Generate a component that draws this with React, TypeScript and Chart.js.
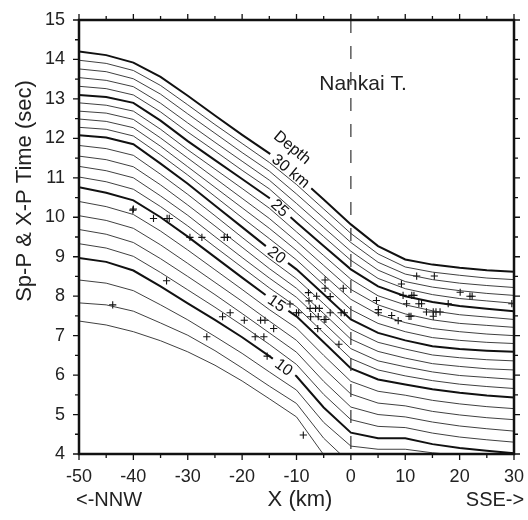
import React, { useEffect, useRef } from "react";
import { Chart, registerables } from "chart.js";

Chart.register(...registerables);

// x positions (km) at which each depth contour was read
const xNodes = [-50, -45, -40, -35, -30, -25, -20, -15, -10, -5, 0, 5, 10, 15, 20, 25, 30];

// Sp-P / X-P time (sec) for each depth contour (km)
const depth30 = [14.20, 14.11, 13.92, 13.56, 13.08, 12.58, 12.09, 11.62, 11.07, 10.45, 9.82, 9.27, 8.93, 8.80, 8.72, 8.66, 8.62];
const depth29 = [13.98, 13.90, 13.72, 13.34, 12.85, 12.35, 11.87, 11.39, 10.83, 10.21, 9.59, 9.07, 8.74, 8.61, 8.53, 8.46, 8.42];
const depth28 = [13.76, 13.69, 13.51, 13.12, 12.62, 12.13, 11.64, 11.17, 10.59, 9.98, 9.36, 8.86, 8.56, 8.42, 8.33, 8.27, 8.22];
const depth27 = [13.54, 13.47, 13.31, 12.89, 12.39, 11.90, 11.42, 10.94, 10.35, 9.74, 9.14, 8.66, 8.37, 8.23, 8.14, 8.07, 8.02];
const depth26 = [13.32, 13.26, 13.10, 12.67, 12.16, 11.68, 11.19, 10.72, 10.11, 9.51, 8.91, 8.45, 8.19, 8.04, 7.94, 7.88, 7.82];
const depth25 = [13.10, 13.05, 12.90, 12.45, 11.93, 11.45, 10.97, 10.49, 9.87, 9.27, 8.68, 8.25, 8.00, 7.85, 7.75, 7.68, 7.62];
const depth24 = [12.90, 12.84, 12.69, 12.23, 11.71, 11.22, 10.73, 10.23, 9.63, 9.03, 8.43, 8.01, 7.78, 7.63, 7.53, 7.47, 7.41];
const depth23 = [12.69, 12.64, 12.48, 12.01, 11.50, 10.99, 10.48, 9.97, 9.39, 8.78, 8.17, 7.78, 7.55, 7.40, 7.31, 7.26, 7.21];
const depth22 = [12.49, 12.43, 12.27, 11.80, 11.28, 10.76, 10.24, 9.72, 9.16, 8.54, 7.92, 7.54, 7.33, 7.18, 7.10, 7.04, 7.00];
const depth21 = [12.28, 12.23, 12.06, 11.58, 11.07, 10.53, 9.99, 9.46, 8.92, 8.29, 7.66, 7.31, 7.10, 6.95, 6.88, 6.83, 6.80];
const depth20 = [12.08, 12.02, 11.85, 11.36, 10.85, 10.30, 9.75, 9.20, 8.68, 8.05, 7.41, 7.07, 6.88, 6.73, 6.66, 6.62, 6.59];
const depth19 = [11.82, 11.74, 11.57, 11.09, 10.58, 10.04, 9.49, 8.95, 8.44, 7.81, 7.16, 6.83, 6.66, 6.51, 6.44, 6.39, 6.36];
const depth18 = [11.55, 11.46, 11.28, 10.82, 10.31, 9.78, 9.24, 8.70, 8.20, 7.56, 6.91, 6.60, 6.43, 6.29, 6.22, 6.16, 6.13];
const depth17 = [11.29, 11.18, 11.00, 10.54, 10.05, 9.51, 8.98, 8.46, 7.97, 7.32, 6.67, 6.36, 6.21, 6.08, 5.99, 5.94, 5.89];
const depth16 = [11.02, 10.90, 10.71, 10.27, 9.78, 9.25, 8.73, 8.21, 7.73, 7.07, 6.42, 6.13, 5.98, 5.86, 5.77, 5.71, 5.66];
const depth15 = [10.76, 10.62, 10.43, 10.00, 9.51, 8.99, 8.47, 7.96, 7.49, 6.83, 6.17, 5.89, 5.76, 5.64, 5.55, 5.48, 5.43];
const depth14 = [10.40, 10.27, 10.07, 9.65, 9.17, 8.67, 8.17, 7.66, 7.19, 6.50, 5.84, 5.59, 5.49, 5.36, 5.27, 5.20, 5.15];
const depth13 = [10.04, 9.92, 9.72, 9.30, 8.83, 8.35, 7.87, 7.37, 6.88, 6.17, 5.52, 5.29, 5.22, 5.08, 4.99, 4.92, 4.87];
const depth12 = [9.69, 9.57, 9.36, 8.95, 8.50, 8.04, 7.56, 7.07, 6.58, 5.84, 5.19, 5.00, 4.94, 4.81, 4.71, 4.64, 4.58];
const depth11 = [9.33, 9.22, 9.01, 8.60, 8.16, 7.72, 7.26, 6.78, 6.27, 5.51, 4.87, 4.70, 4.67, 4.53, 4.43, 4.36, 4.30];
const depth10 = [8.97, 8.87, 8.65, 8.25, 7.82, 7.40, 6.96, 6.48, 5.97, 5.18, 4.54, 4.40, 4.40, 4.25, 4.15, 4.08, 4.02];
const depth9 = [8.41, 8.33, 8.14, 7.78, 7.40, 6.98, 6.55, 6.08, 5.62, 4.80, 4.20, 4.12, 4.12, 4.03, 3.97, 3.94, 3.92];
const depth8 = [7.83, 7.78, 7.62, 7.32, 7.01, 6.62, 6.18, 5.72, 5.28, 4.40, 3.75, 3.70, 3.70, 3.65, 3.60, 3.58, 3.56];
const depth7 = [7.37, 7.27, 7.10, 6.87, 6.59, 6.25, 5.85, 5.40, 4.94, 3.98, 3.40, 3.35, 3.35, 3.30, 3.25, 3.22, 3.20];

const depths = [30, 29, 28, 27, 26, 25, 24, 23, 22, 21, 20, 19, 18, 17, 16, 15, 14, 13, 12, 11, 10, 9, 8, 7];
const contours = [
  depth30, depth29, depth28, depth27, depth26, depth25, depth24, depth23, depth22, depth21, depth20, depth19,
  depth18, depth17, depth16, depth15, depth14, depth13, depth12, depth11, depth10, depth9, depth8, depth7,
];

// earthquakes (+)
const quakeX = [-43.8, -40.1, -40.0, -36.3, -33.8, -33.4, -33.9, -29.6, -27.4, -23.3, -22.7, -26.5, -23.6, -22.2, -19.6, -16.6, -15.8, -17.6, -16.0, -15.4, -14.2, -11.2, -10.0, -9.6, -7.8, -6.3, -7.7, -7.5, -6.5, -5.8, -7.4, -6.0, -4.9, -4.6, -4.75, -4.75, -3.8, -3.8, -1.4, -1.8, -1.2, -6.1, -2.2, -8.75, 4.7, 5.05, 5.05, 7.5, 8.7, 9.3, 9.6, 11.2, 11.6, 10.25, 10.7, 11.05, 12.1, 15.35, 12.5, 13.0, 13.9, 15.15, 15.65, 16.4, 15.15, 17.9, 20.1, 21.9, 22.3, 29.6];
const quakeY = [7.78, 10.18, 10.21, 9.97, 9.97, 9.97, 8.39, 9.49, 9.49, 9.49, 9.49, 6.97, 7.48, 7.58, 7.39, 7.39, 7.39, 6.97, 6.97, 6.48, 7.18, 7.8, 7.58, 7.58, 8.09, 8.0, 7.88, 7.69, 7.69, 7.69, 7.48, 7.48, 7.41, 7.41, 8.41, 8.2, 7.99, 7.58, 8.2, 7.58, 7.58, 7.18, 6.78, 4.48, 7.89, 7.66, 7.58, 7.51, 7.38, 8.31, 8.02, 8.02, 8.02, 7.81, 7.49, 7.49, 8.51, 8.51, 7.81, 7.81, 7.6, 7.6, 7.6, 7.6, 7.49, 7.81, 8.1, 8.0, 8.0, 7.81];

// tick labels
const xTicks = [-50, -40, -30, -20, -10, 0, 10, 20, 30];
const yTicks = [4, 5, 6, 7, 8, 9, 10, 11, 12, 13, 14, 15];

// contour label texts
const labelTexts = ["30 km", "25", "20", "15", "10"];
const labelDepths = [30, 25, 20, 15, 10];
const labelX = [-11.0, -13.0, -13.6, -13.6, -12.3];

const FONT = '"Liberation Sans", Arial, Helvetica, sans-serif';
const INK = "#111";

function interp(x: number, xs: number[], ys: number[]) {
  for (let i = 0; i < xs.length - 1; i++) {
    if (x >= xs[i] && x <= xs[i + 1]) {
      const t = (x - xs[i]) / (xs[i + 1] - xs[i]);
      return ys[i] + t * (ys[i + 1] - ys[i]);
    }
  }
  return ys[ys.length - 1];
}

const overlay = {
  id: "overlay",
  afterDatasetsDraw(chart: any) {
    const ctx = chart.ctx as CanvasRenderingContext2D;
    const xs = chart.scales.x;
    const ys = chart.scales.y;
    const ca = chart.chartArea;

    // contour labels
    ctx.save();
    ctx.font = `16px ${FONT}`;
    ctx.textAlign = "center";
    ctx.textBaseline = "middle";
    const angleAt = (arr: number[], x: number) => {
      const x1 = x - 2, x2 = x + 2;
      return Math.atan2(
        ys.getPixelForValue(interp(x2, xNodes, arr)) - ys.getPixelForValue(interp(x1, xNodes, arr)),
        xs.getPixelForValue(x2) - xs.getPixelForValue(x1)
      );
    };
    labelTexts.forEach((txt, i) => {
      const arr = contours[depths.indexOf(labelDepths[i])];
      const xv = labelX[i];
      const px = xs.getPixelForValue(xv);
      const py = ys.getPixelForValue(interp(xv, xNodes, arr));
      const ang = angleAt(arr, xv);
      ctx.save();
      ctx.translate(px, py);
      ctx.rotate(ang);
      const w = ctx.measureText(txt).width;
      ctx.fillStyle = "#fff";
      ctx.fillRect(-w / 2 - 5, -3.2, w + 10, 6.4);
      ctx.fillStyle = INK;
      ctx.fillText(txt, 0, 1);
      ctx.restore();
    });
    // "Depth" above the 30 km label
    {
      const ang = angleAt(depth30, -11);
      ctx.save();
      ctx.translate(xs.getPixelForValue(-10.83), ys.getPixelForValue(11.76));
      ctx.rotate(ang);
      ctx.fillStyle = INK;
      ctx.fillText("Depth", 0, 0);
      ctx.restore();
    }
    ctx.restore();

    // dashed trench line at x = 0
    ctx.save();
    ctx.strokeStyle = "#333";
    ctx.lineWidth = 1.2;
    ctx.setLineDash([13, 13]);
    const x0 = xs.getPixelForValue(0);
    ctx.beginPath();
    ctx.moveTo(x0, ca.top);
    ctx.lineTo(x0, ca.bottom);
    ctx.stroke();
    ctx.restore();

    // Nankai T.
    ctx.save();
    ctx.font = `21px ${FONT}`;
    ctx.fillStyle = "#222";
    ctx.textAlign = "center";
    ctx.textBaseline = "middle";
    ctx.fillText("Nankai T.", xs.getPixelForValue(2.23), ys.getPixelForValue(13.38));
    ctx.restore();
  },
  afterDraw(chart: any) {
    const ctx = chart.ctx as CanvasRenderingContext2D;
    const xs = chart.scales.x;
    const ys = chart.scales.y;
    const ca = chart.chartArea;
    ctx.save();
    ctx.strokeStyle = INK;
    // ticks
    ctx.lineWidth = 1.3;
    ctx.beginPath();
    for (let v = -50; v <= 30; v += 5) {
      const p = xs.getPixelForValue(v);
      const len = v % 10 === 0 ? 6 : 4;
      ctx.moveTo(p, ca.bottom);
      ctx.lineTo(p, ca.bottom + len);
      ctx.moveTo(p, ca.top);
      ctx.lineTo(p, ca.top - len);
    }
    for (let v = 4; v <= 15; v += 0.5) {
      const p = ys.getPixelForValue(v);
      const len = Number.isInteger(v) ? 6 : 4;
      ctx.moveTo(ca.left, p);
      ctx.lineTo(ca.left - len, p);
      ctx.moveTo(ca.right, p);
      ctx.lineTo(ca.right + len, p);
    }
    ctx.stroke();
    // frame
    ctx.lineWidth = 2.5;
    ctx.strokeRect(ca.left, ca.top, ca.right - ca.left, ca.bottom - ca.top);

    // titles
    ctx.fillStyle = "#222";
    ctx.textAlign = "center";
    ctx.textBaseline = "middle";
    ctx.font = `22px ${FONT}`;
    ctx.fillText("X (km)", 300, 500);
    ctx.save();
    ctx.translate(25, 191);
    ctx.rotate(-Math.PI / 2);
    ctx.fillText("Sp-P & X-P Time (sec)", 0, 0);
    ctx.restore();
    ctx.font = `20px ${FONT}`;
    ctx.fillText("<-NNW", 109, 500);
    ctx.fillText("SSE->", 495, 500);
    ctx.restore();
  },
};

export default function App() {
  const ref = useRef<HTMLCanvasElement>(null);
  useEffect(() => {
    if (!ref.current) return;
    const datasets: any[] = contours.map((arr, i) => {
      const thick = depths[i] % 5 === 0;
      return {
        label: `${depths[i]} km`,
        data: xNodes.map((x, j) => ({ x, y: arr[j] })),
        showLine: true,
        borderColor: thick ? "#111" : "#2a2a2a",
        borderWidth: thick ? 2 : 0.9,
        pointRadius: 0,
        pointHoverRadius: 0,
        fill: false,
        tension: 0,
      };
    });
    datasets.push({
      label: "events",
      data: quakeX.map((x, i) => ({ x, y: quakeY[i] })),
      showLine: false,
      pointStyle: "cross",
      pointRadius: 3.6,
      pointBorderWidth: 1.1,
      borderWidth: 1.1,
      borderColor: INK,
      backgroundColor: INK,
      pointBorderColor: INK,
    });

    const tickFont = { family: FONT, size: 18 };
    const chart = new Chart(ref.current, {
      type: "scatter",
      data: { datasets },
      options: {
        animation: false,
        responsive: false,
        events: [],
        layout: { padding: { top: 20, right: 14, left: 0, bottom: 0 } },
        plugins: { legend: { display: false }, tooltip: { enabled: false } },
        scales: {
          x: {
            type: "linear",
            min: -50,
            max: 30,
            afterBuildTicks: (s: any) => {
              s.ticks = xTicks.map((v) => ({ value: v }));
            },
            afterFit: (s: any) => {
              s.height = 66;
              s.paddingLeft = 0;
              s.paddingRight = 0;
            },
            ticks: { autoSkip: false, maxRotation: 0, padding: 12, font: tickFont, color: "#222" },
            grid: { display: false, drawTicks: false },
            border: { display: false },
          },
          y: {
            type: "linear",
            min: 4,
            max: 15,
            afterBuildTicks: (s: any) => {
              s.ticks = yTicks.map((v) => ({ value: v }));
            },
            afterFit: (s: any) => {
              s.width = 79;
              s.paddingTop = 0;
              s.paddingBottom = 0;
            },
            ticks: { autoSkip: false, padding: 14, font: tickFont, color: "#222" },
            grid: { display: false, drawTicks: false },
            border: { display: false },
          },
        },
      },
      plugins: [overlay],
    } as any);
    return () => chart.destroy();
  }, []);
  return (
    <div style={{ position: "absolute", left: 0, top: 0, width: 528, height: 520, background: "#fff" }}>
      <canvas ref={ref} width={528} height={520} style={{ display: "block", width: 528, height: 520 }} />
    </div>
  );
}
